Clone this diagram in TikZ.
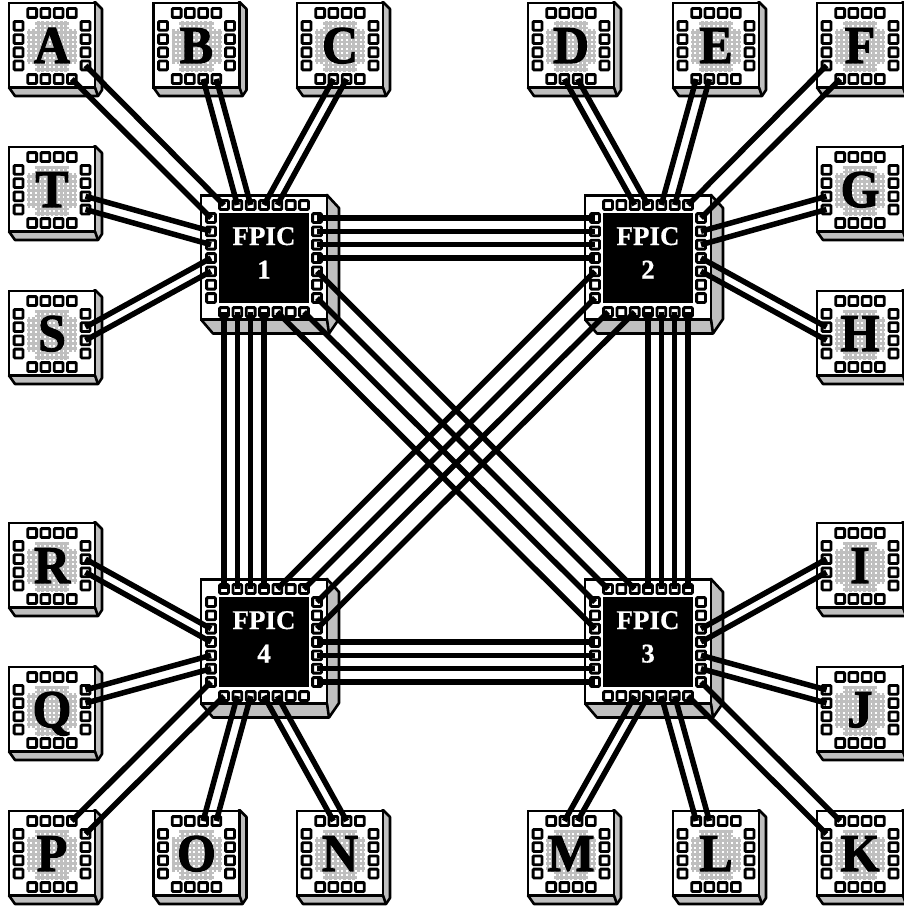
\documentclass[tikz,border=0pt]{standalone}
\usepackage{fontspec}
\setmainfont{Liberation Serif}
\newfontfamily\chipfont[FakeBold=2.2]{Liberation Serif Bold}
\newfontfamily\fpicfont[FakeBold=0.6]{Liberation Serif Bold}
\definecolor{bevel}{gray}{0.75}
\tikzset{
  pinbox/.style={draw=black,fill=white,line width=2.8pt,rounded corners=0.8pt,minimum size=8.8pt,inner sep=0pt,outer sep=0pt},
  face/.style={draw=black,fill=white,line width=2.8pt,line join=miter},
  side/.style={draw=black,fill=bevel,line width=2.6pt,line join=round},
  comb/.style={draw=bevel,line width=2.7pt},
  die/.style={fill=black},
  wire/.style={draw=black,line width=5.5pt,line cap=butt},
  bigletter/.style={inner sep=0pt,anchor=base,font=\chipfont\fontsize{53}{53}\selectfont},
  bigtext/.style={inner sep=0pt,text=white,anchor=base,font=\fpicfont\fontsize{27}{27}\selectfont},
}
% small chip: name, centre x, centre y, letter
\newcommand{\smallchip}[4]{%
  \draw[side] (#2+43,#3-44) -- (#2+50,#3-37) -- (#2+50,#3+44) -- (#2+46,#3+50) -- (#2-37,#3+50) -- (#2-43,#3+41.5) -- cycle;
  \draw[side] (#2+43,#3+41.5) -- (#2+46,#3+50);
  \draw[face] (#2-43,#3-43) rectangle (#2+43,#3+41.5);
  \foreach \k in {-5,...,5}{
    \draw[comb] ({#2+\k*4.6},#3-24.5) -- ({#2+\k*4.6},#3+25.5);
    \draw[comb] (#2-25,{#3+\k*4.6+0.5}) -- (#2+25,{#3+\k*4.6+0.5});
  }
  \fill[white] (#2-26,#3-25.5) rectangle (#2-17.3,#3-17);
  \fill[white] (#2+17.3,#3-25.5) rectangle (#2+26,#3-17);
  \fill[white] (#2-26,#3+18) rectangle (#2-17.3,#3+26.5);
  \fill[white] (#2+17.3,#3+18) rectangle (#2+26,#3+26.5);
  \foreach \n/\o in {1/-19.8,2/-6.6,3/6.6,4/19.8}{
    \node[pinbox] (#1-t\n) at ({#2+\o},#3-33) {};
    \node[pinbox] (#1-b\n) at ({#2+\o},#3+33) {};
    \node[pinbox] (#1-l\n) at (#2-33.5,{#3+\o-0.3}) {};
    \node[pinbox] (#1-r\n) at (#2+33.5,{#3+\o-0.3}) {};
  }
  \node[bigletter] (#1) at (#2,#3+17) {\scalebox{0.94}[1]{#4}};
}
% FPIC: name, centre x, centre y, number
\newcommand{\bigchip}[4]{%
  \draw[side] (#2+63,#3-63) -- (#2+75,#3-50) -- (#2+75,#3+61) -- (#2+65,#3+75.5) -- (#2-51,#3+75.5) -- (#2-63,#3+61.5) -- cycle;
  \draw[side] (#2+63,#3+61.5) -- (#2+65,#3+75.5);
  \draw[face] (#2-63,#3-62.5) rectangle (#2+63,#3+61.5);
  \fill[die] (#2-45,#3-45) rectangle (#2+45,#3+45);
  \foreach \n/\o in {1/-40,2/-26.7,3/-13.3,4/0,5/13.3,6/26.7,7/40}{
    \node[pinbox] (#1-t\n) at ({#2+\o},#3-53) {};
    \node[pinbox] (#1-b\n) at ({#2+\o},#3+54) {};
    \node[pinbox] (#1-l\n) at (#2-53,{#3+\o}) {};
    \node[pinbox] (#1-r\n) at (#2+53,{#3+\o}) {};
  }
  \node[bigtext] (#1-name) at (#2,#3-13) {FPIC};
  \node[bigtext] (#1-num) at (#2,#3+20.5) {#4};
}
\begin{document}
\begin{tikzpicture}[x=1pt,y=-1pt]
\fill[white] (0,0) rectangle (904,907);
\clip (0,0) rectangle (904,907);
\smallchip{A}{52}{46}{A}
\smallchip{B}{196.5}{46}{B}
\smallchip{C}{340}{46}{C}
\smallchip{D}{571}{46}{D}
\smallchip{E}{716}{46}{E}
\smallchip{F}{860}{46}{F}
\smallchip{T}{52}{190}{T}
\smallchip{S}{52}{334}{S}
\smallchip{G}{860}{190}{G}
\smallchip{H}{860}{334}{H}
\smallchip{R}{52}{566}{R}
\smallchip{Q}{52}{710}{Q}
\smallchip{I}{860}{566}{I}
\smallchip{J}{860}{710}{J}
\smallchip{P}{52}{854}{P}
\smallchip{O}{196.5}{854}{O}
\smallchip{N}{340}{854}{N}
\smallchip{M}{571}{854}{M}
\smallchip{L}{716}{854}{L}
\smallchip{K}{860}{854}{K}
\bigchip{Fa}{264}{258}{1}
\bigchip{Fb}{648}{258}{2}
\bigchip{Fc}{648}{642}{3}
\bigchip{Fd}{264}{642}{4}
\foreach \a/\b in {
  A-r4/Fa-t1, A-b4/Fa-l1, B-b3/Fa-t2, B-b4/Fa-t3, C-b2/Fa-t4, C-b3/Fa-t5,
  T-r3/Fa-l2, T-r4/Fa-l3, S-r2/Fa-l4, S-r3/Fa-l5,
  D-b2/Fb-t3, D-b3/Fb-t4, E-b1/Fb-t5, E-b2/Fb-t6, F-l4/Fb-t7, F-b1/Fb-r1,
  G-l3/Fb-r2, G-l4/Fb-r3, H-l2/Fb-r4, H-l3/Fb-r5,
  I-l2/Fc-r3, I-l3/Fc-r4, J-l1/Fc-r5, J-l2/Fc-r6, K-t1/Fc-r7, K-l1/Fc-b7,
  L-t1/Fc-b5, L-t2/Fc-b6, M-t2/Fc-b3, M-t3/Fc-b4,
  N-t2/Fd-b4, N-t3/Fd-b5, O-t3/Fd-b2, O-t4/Fd-b3, P-t4/Fd-l7, P-r1/Fd-b1,
  Q-r1/Fd-l5, Q-r2/Fd-l6, R-r2/Fd-l3, R-r3/Fd-l4,
  Fa-r1/Fb-l1, Fa-r2/Fb-l2, Fa-r3/Fb-l3, Fa-r4/Fb-l4,
  Fd-r4/Fc-l4, Fd-r5/Fc-l5, Fd-r6/Fc-l6, Fd-r7/Fc-l7,
  Fa-b1/Fd-t1, Fa-b2/Fd-t2, Fa-b3/Fd-t3, Fa-b4/Fd-t4,
  Fb-b4/Fc-t4, Fb-b5/Fc-t5, Fb-b6/Fc-t6, Fb-b7/Fc-t7,
  Fa-r5/Fc-t3, Fa-r7/Fc-t1, Fa-b7/Fc-l1, Fa-b5/Fc-l3,
  Fb-l5/Fd-t5, Fb-l7/Fd-t7, Fb-b1/Fd-r1, Fb-b3/Fd-r3}{
  \draw[wire] (\a.center) -- (\b.center);
}
\end{tikzpicture}
\end{document}
